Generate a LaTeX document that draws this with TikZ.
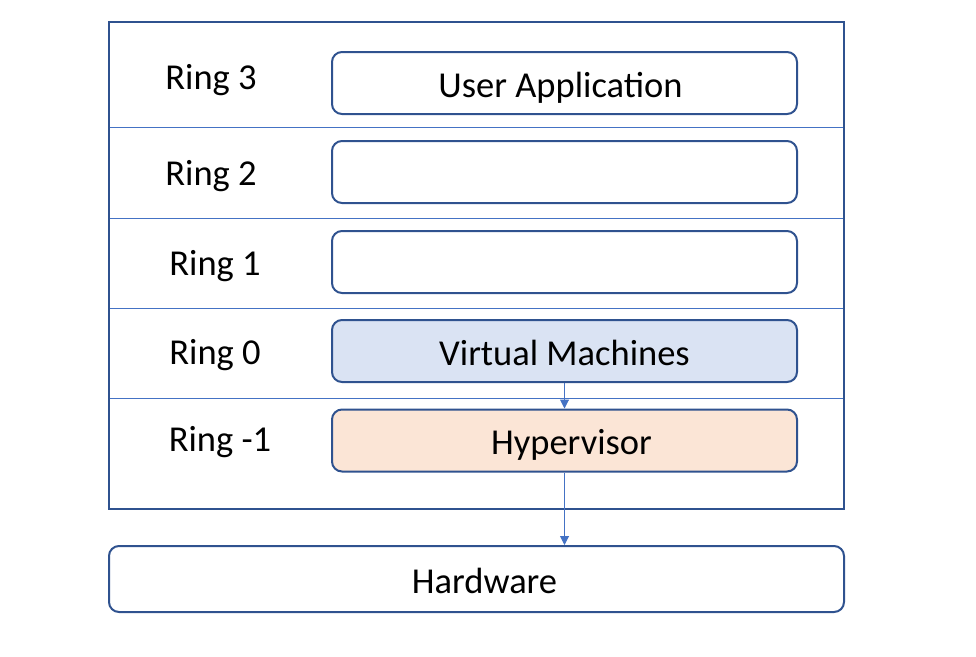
\documentclass[tikz,border=0pt]{standalone}
\usepackage{fontspec}
\setmainfont{Carlito}
\usetikzlibrary{arrows.meta}
\definecolor{edgeblue}{HTML}{2F528F}
\definecolor{lineblue}{HTML}{4472C4}
\definecolor{vmfill}{HTML}{DAE3F3}
\definecolor{hypfill}{HTML}{FBE5D6}
\tikzset{
  layerbox/.style={draw=edgeblue, line width=2pt, rounded corners=10pt,
    minimum width=465pt, minimum height=62pt, inner sep=0pt,
    text height=28pt, text depth=0pt,
    font=\fontsize{36.5}{42}\selectfont},
  ringlabel/.style={font=\fontsize{36.5}{42}\selectfont, inner sep=0pt},
  flow/.style={draw=lineblue, line width=1pt, -{Triangle[width=9pt,length=9pt]}}
}
\begin{document}
\begin{tikzpicture}[x=1pt,y=-1pt]
\useasboundingbox (0,0) rectangle (976,656);

\def\ringframe{(109,22) rectangle (844,509)}

%ring separators
\foreach \y in {127,218,308,398}
  \draw[lineblue, line width=1pt] (109,\y) -- (844,\y);
\draw[edgeblue, line width=2pt] \ringframe;

\node[ringlabel] (ring3) at (211,80) {Ring 3};
\node[ringlabel] (ring2) at (211,176) {Ring 2};
\node[ringlabel] (ring1) at (215,266) {Ring 1};
\node[ringlabel] (ring0) at (215,355) {Ring 0};
\node[ringlabel] (ringm1) at (220,442) {Ring -1};

\node[layerbox] (app) at (564.5,83) {User Application\hspace*{8pt}};
\node[layerbox] (r2box) at (564.5,172) {};
\node[layerbox] (r1box) at (564.5,262) {};
\node[layerbox, fill=vmfill] (vm) at (564.5,351) {Virtual Machines};
\node[layerbox, fill=hypfill] (hyp) at (564.5,440.5) {\hspace*{14pt}Hypervisor};
\node[layerbox, minimum width=735pt, minimum height=66pt] (hw) at (476.5,579) {\hspace*{16pt}Hardware};

\draw[flow] (vm.south) -- (hyp.north);
\draw[flow] (hyp.south) -- (hyp.south |- hw.north);
\end{tikzpicture}
\end{document}
